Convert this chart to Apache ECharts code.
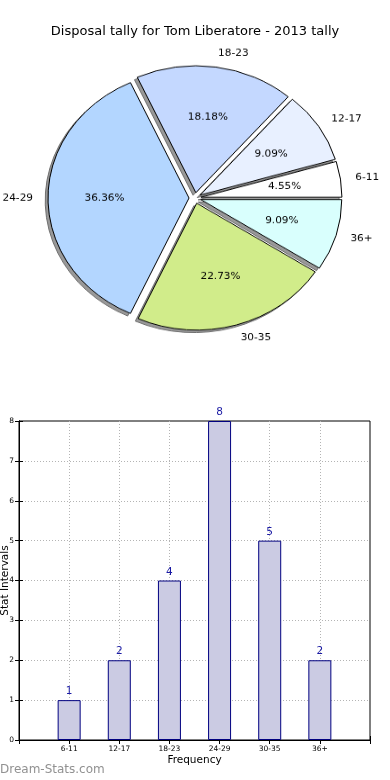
<!DOCTYPE html>
<html><head><meta charset="utf-8">
<script src="https://cdn.jsdelivr.net/npm/echarts@6/dist/echarts.min.js"></script>
<style>
html,body{margin:0;padding:0;background:#fff;}
#bar{position:absolute;left:0;top:0;width:390px;height:780px;}
#pie{position:absolute;left:0;top:0;width:390px;height:400px;transform:scaleY(0.9);transform-origin:195px 198px;}
</style></head><body>
<div id="bar"></div><div id="pie"></div>
<script>
// ---- data ----
const categories = ['6-11', '12-17', '18-23', '24-29', '30-35', '36+'];
const counts = [1, 2, 4, 8, 5, 2];
const sliceColors = ['#ffffff', '#e8f0ff', '#c4d8ff', '#b3d6ff', '#d1ec8a', '#d9fffd'];
const titleText = 'Disposal tally for Tom Liberatore - 2013 tally';
const xAxisName = 'Frequency';
const yAxisName = 'Stat Intervals';
const watermark = 'Dream-Stats.com';

const FONT = 'DejaVu Sans';

// ---- bar chart (with title & watermark) ----
const bar = echarts.init(document.getElementById('bar'));
const barData = categories.map((c, i) => [i + 1, counts[i]]);
const xMax = categories.length + 1;
const yMax = Math.max(...counts);
const dotted = { color: '#b4b4b4', type: [1, 2], width: 1 };
bar.setOption({
  animation: false,
  backgroundColor: '#ffffff',
  title: { text: titleText, left: 'center', top: 20,
    textStyle: { fontFamily: FONT, fontSize: 13, fontWeight: 'normal', color: '#000' } },
  graphic: [{ type: 'text', left: 0, top: 764,
    style: { text: watermark, fontFamily: FONT, fontSize: 12, fill: '#919191' } }],
  grid: { left: 19, right: 20, top: 421, bottom: 40, show: true, borderColor: '#000', borderWidth: 1,
    containLabel: false, outerBoundsMode: 'none' },
  xAxis: [
    { type: 'value', min: 0, max: xMax, interval: 1, position: 'bottom',
      axisLine: { show: true, lineStyle: { color: '#000' } },
      axisTick: { show: true, inside: true, length: 4, lineStyle: { color: '#000' } },
      axisLabel: { fontFamily: FONT, fontSize: 7.5, color: '#000', margin: 5,
        formatter: v => (v >= 1 && v <= categories.length) ? categories[v - 1] : '' },
      splitLine: { show: true, showMinLine: false, showMaxLine: false, lineStyle: dotted },
      name: xAxisName, nameLocation: 'middle', nameGap: 15, nameMoveOverlap: false,
      nameTextStyle: { fontFamily: FONT, fontSize: 10.5, color: '#000' } },
    { type: 'value', min: 0, max: xMax, interval: 1, position: 'top',
      axisLine: { show: true, lineStyle: { color: '#000' } },
      axisTick: { show: true, inside: true, length: 4, lineStyle: { color: '#000' } },
      axisLabel: { show: false }, splitLine: { show: false } }
  ],
  yAxis: [
    { type: 'value', min: 0, max: yMax, interval: 1, position: 'left',
      axisLine: { show: true, lineStyle: { color: '#000' } },
      axisTick: { show: true, inside: true, length: 4, lineStyle: { color: '#000' } },
      axisLabel: { fontFamily: FONT, fontSize: 7.5, color: '#000', margin: 5 },
      splitLine: { show: true, showMinLine: false, showMaxLine: false, lineStyle: dotted },
      name: yAxisName, nameLocation: 'middle', nameGap: 8, nameMoveOverlap: false,
      nameTextStyle: { fontFamily: FONT, fontSize: 10.5, color: '#000' } },
    { type: 'value', min: 0, max: yMax, interval: 1, position: 'right',
      axisLine: { show: true, lineStyle: { color: '#000' } },
      axisTick: { show: true, inside: true, length: 4, lineStyle: { color: '#000' } },
      axisLabel: { show: false }, splitLine: { show: false } }
  ],
  series: [{
    type: 'bar', xAxisIndex: 0, yAxisIndex: 0, data: barData, barWidth: 23,
    itemStyle: { color: '#cbcbe3', borderColor: '#000080', borderWidth: 1 },
    label: { show: true, position: 'top', distance: 3, fontFamily: FONT, fontSize: 10.5, color: '#1a1aa4' },
    emphasis: { disabled: true }
  }]
});

// ---- pie chart (exploded, shadowed, slightly elliptical via CSS) ----
const pie = echarts.init(document.getElementById('pie'));
const pieData = categories.map((c, i) => ({ name: c, value: counts[i], selected: true,
  itemStyle: { color: sliceColors[i] } }));
const common = { type: 'pie', startAngle: 0, clockwise: false, center: [195, 198],
  selectedMode: 'multiple', selectedOffset: 6, avoidLabelOverlap: false, silent: true,
  emphasis: { disabled: true }, animation: false };
pie.setOption({
  animation: false,
  series: [
    Object.assign({}, common, {
      z: 1, center: [192.2, 200.8], radius: 141,
      data: pieData.map(d => Object.assign({}, d, { itemStyle: { color: '#999999' } })),
      itemStyle: { borderColor: '#6e6e6e', borderWidth: 1 },
      select: { itemStyle: { borderColor: '#6e6e6e', borderWidth: 1 } },
      label: { show: false }, labelLine: { show: false }
    }),
    Object.assign({}, common, {
      z: 2, radius: 141, data: pieData,
      itemStyle: { borderColor: '#000', borderWidth: 1 },
      select: { itemStyle: { borderColor: '#000', borderWidth: 1 } },
      label: { show: true, position: 'outside', formatter: '{b}', fontFamily: FONT, fontSize: 10.5,
        color: '#000', distanceToLabelLine: 0 },
      labelLine: { show: false, length: 15, length2: 0 }
    }),
    Object.assign({}, common, {
      z: 3, radius: 163,
      data: pieData.map(d => Object.assign({}, d, { itemStyle: { color: 'rgba(0,0,0,0)' } })),
      itemStyle: { borderWidth: 0 },
      select: { itemStyle: { borderWidth: 0 } },
      label: { show: true, position: 'inside', formatter: '{d}%', fontFamily: FONT, fontSize: 10.5, color: '#000' },
      labelLine: { show: false }
    })
  ]
});
</script>
</body></html>
